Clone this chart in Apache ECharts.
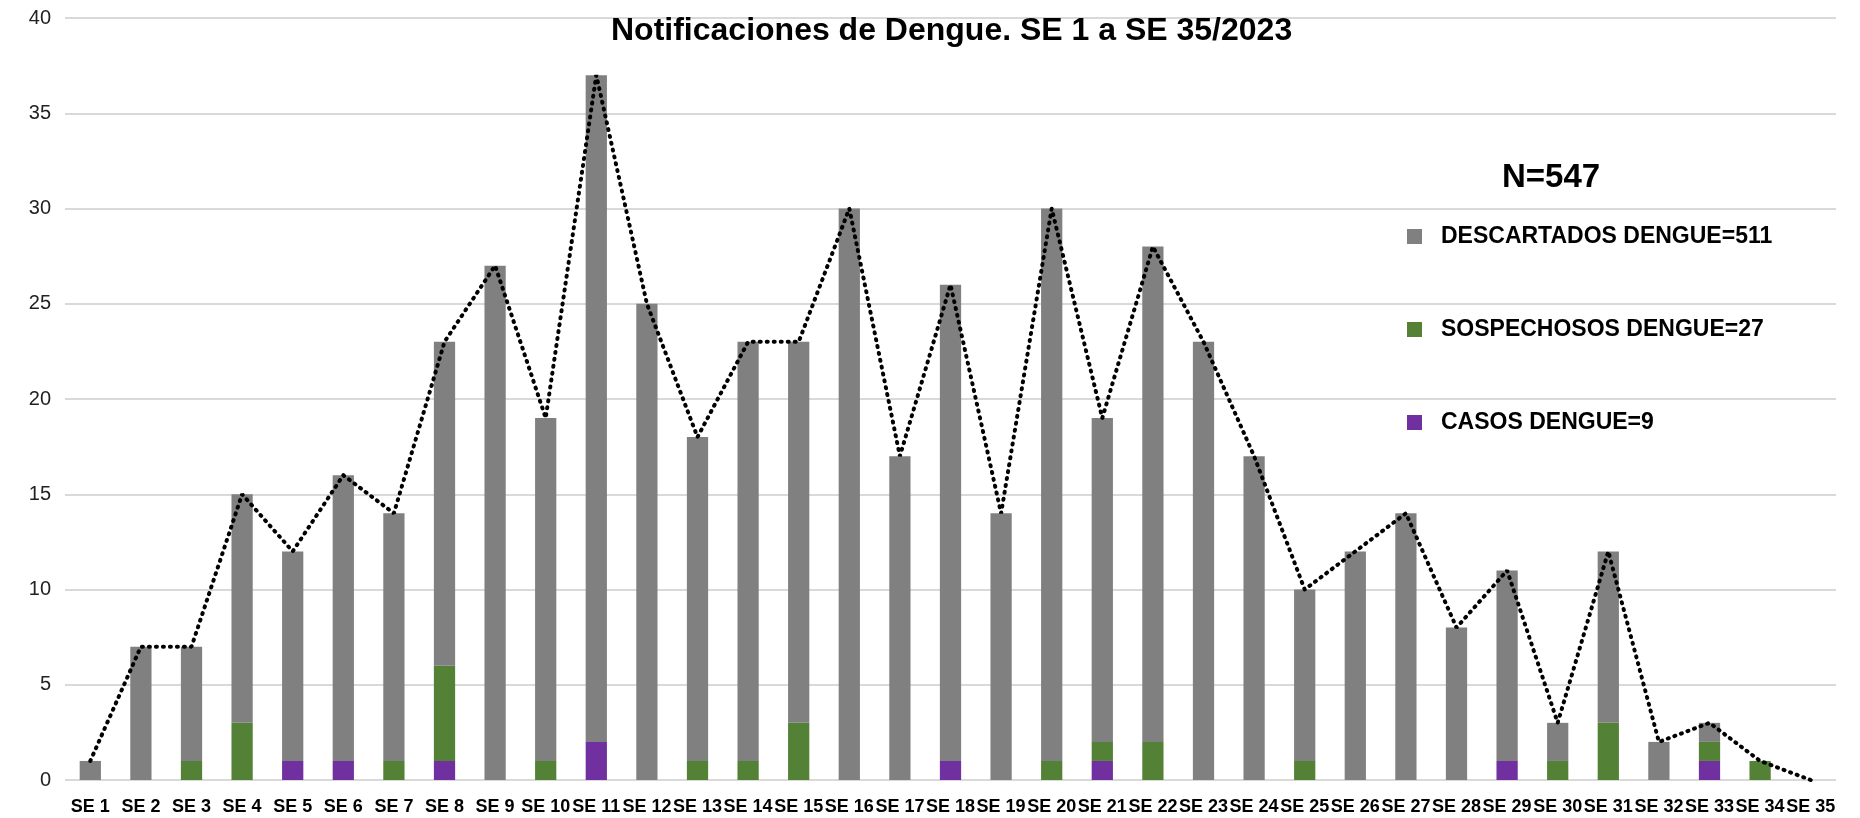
<!DOCTYPE html>
<html>
<head>
<meta charset="utf-8">
<script src="https://cdn.jsdelivr.net/npm/echarts@6/dist/echarts.min.js"></script>
<style>
  html, body { margin: 0; padding: 0; background: #fff; }
  #chart { width: 1860px; height: 818px; }
</style>
</head>
<body>
<div id="chart"></div>
<script>
const weeks = []
for (let i = 1; i <= 35; i++) weeks.push('SE ' + i)

// casos confirmados (morado)
const casos = [0, 0, 0, 0, 1, 1, 0, 1, 0, 0, 2, 0, 0, 0, 0, 0, 0, 1, 0, 0, 1, 0, 0, 0, 0, 0, 0, 0, 1, 0, 0, 0, 1, 0, 0]
// sospechosos (verde)
const sospechosos = [0, 0, 1, 3, 0, 0, 1, 5, 0, 1, 0, 0, 1, 1, 3, 0, 0, 0, 0, 1, 1, 2, 0, 0, 1, 0, 0, 0, 0, 1, 3, 0, 1, 1, 0]
// descartados (gris)
const descartados = [1, 7, 6, 12, 11, 15, 13, 17, 27, 18, 35, 25, 17, 22, 20, 30, 17, 25, 14, 29, 17, 26, 23, 17, 9, 12, 14, 8, 10, 2, 9, 2, 1, 0, 0]
// total de notificaciones por semana
const totales = [1, 7, 7, 15, 12, 16, 14, 23, 27, 19, 37, 25, 18, 23, 23, 30, 17, 26, 14, 30, 19, 28, 23, 17, 10, 12, 14, 8, 11, 3, 12, 2, 3, 1, 0]

const chart = echarts.init(document.getElementById('chart'))

const barWidth = '42%'

chart.setOption({
  animation: false,
  textStyle: { fontFamily: 'Liberation Sans' },
  title: [
    {
      text: 'Notificaciones de Dengue. SE 1 a SE 35/2023',
      left: 606,
      top: 10,
      textStyle: { fontSize: 32, fontWeight: 'bold', color: '#000' }
    },
    {
      text: 'N=547',
      left: 1497,
      top: 156,
      textStyle: { fontSize: 33, fontWeight: 'bold', color: '#000' }
    }
  ],
  legend: {
    orient: 'vertical',
    left: 1402,
    top: 220,
    itemWidth: 15,
    itemHeight: 15,
    itemGap: 70,
    icon: 'rect',
    data: ['DESCARTADOS DENGUE=511', 'SOSPECHOSOS DENGUE=27', 'CASOS DENGUE=9'],
    textStyle: { fontSize: 23, fontWeight: 'bold', color: '#000', padding: [0, 0, 0, 14] }
  },
  grid: {
    left: 65,
    right: 24,
    top: 18,
    bottom: 38
  },
  xAxis: {
    type: 'category',
    data: weeks,
    axisLine: { show: false },
    axisTick: { show: false },
    axisLabel: {
      interval: 0,
      fontSize: 18,
      fontWeight: 'bold',
      color: '#000',
      margin: 18
    }
  },
  yAxis: {
    type: 'value',
    min: 0,
    max: 40,
    interval: 5,
    axisLine: { show: false },
    axisTick: { show: false },
    axisLabel: { fontSize: 20, color: '#222', margin: 14 },
    splitLine: { lineStyle: { color: '#d9d9d9', width: 2 } }
  },
  series: [
    {
      name: 'CASOS DENGUE=9',
      type: 'bar',
      stack: 'dengue',
      barWidth,
      data: casos,
      itemStyle: { color: '#7030a0' }
    },
    {
      name: 'SOSPECHOSOS DENGUE=27',
      type: 'bar',
      stack: 'dengue',
      barWidth,
      data: sospechosos,
      itemStyle: { color: '#538135' }
    },
    {
      name: 'DESCARTADOS DENGUE=511',
      type: 'bar',
      stack: 'dengue',
      barWidth,
      data: descartados,
      itemStyle: { color: '#808080' }
    },
    {
      name: 'Total',
      type: 'line',
      data: totales,
      symbol: 'none',
      z: 5,
      lineStyle: { color: '#000', width: 4, type: [1, 6], cap: 'round' }
    }
  ]
})
</script>
</body>
</html>
